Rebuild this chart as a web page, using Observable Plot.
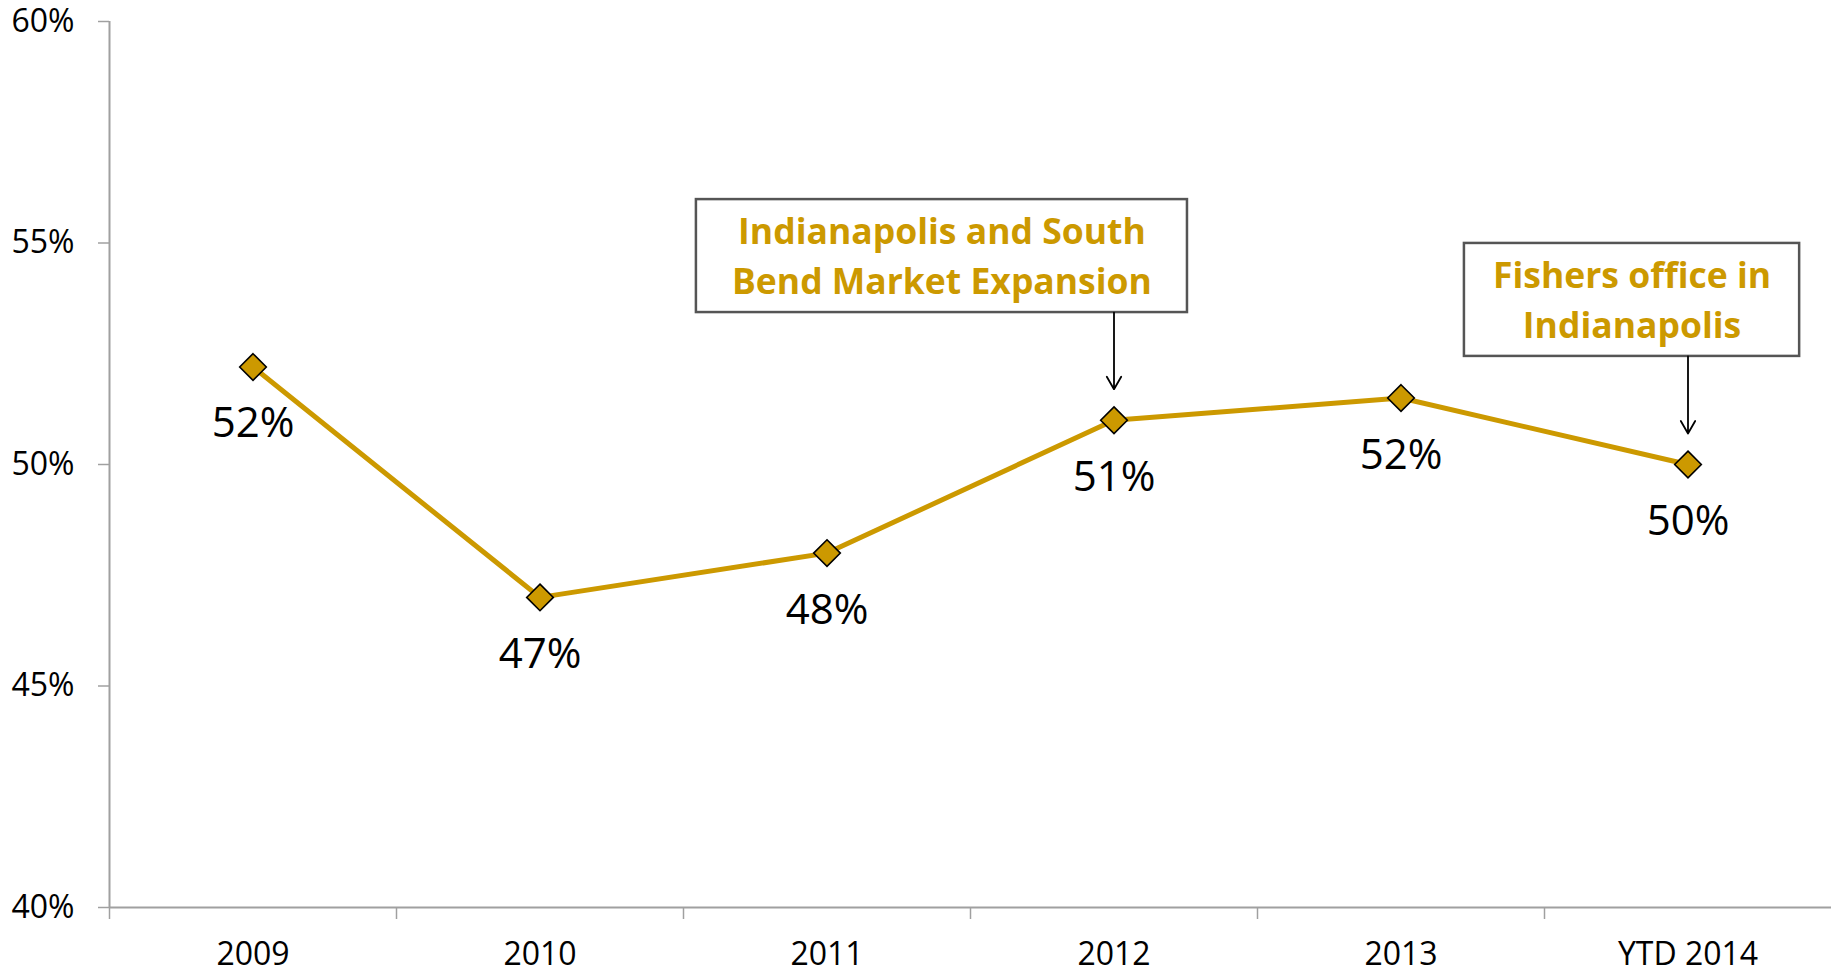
<!DOCTYPE html>
<html>
<head>
<meta charset="utf-8">
<script src="https://cdn.jsdelivr.net/npm/d3@7"></script>
<script src="https://cdn.jsdelivr.net/npm/@observablehq/plot@0.6"></script>
<style>
  html, body { margin: 0; padding: 0; background: #fff; }
  #chart svg { display: block; }
</style>
</head>
<body>
<div id="chart"></div>
<script>
// ---- data ----
const categories = ["2009", "2010", "2011", "2012", "2013", "YTD 2014"];
const values = [52.2, 47.0, 48.0, 51.0, 51.5, 50.0];
const valueLabels = ["52%", "47%", "48%", "51%", "52%", "50%"];
const yTicks = [40, 45, 50, 55, 60];

// annotations (in category-index / percent units)
const annText = ["Indianapolis and South\nBend Market Expansion", "Fishers office in\nIndianapolis"];
const annTarget = [3, 5];
const annLeft = [1.545, 4.221];
const annRight = [3.256, 5.389];
const annTop = [55.98, 54.99];
const annBottom = [53.43, 52.44];

const gold = "#CC9900";
const axisGray = "#A0A0A0";

const pts = categories.map((c, i) => ({i, v: values[i], label: valueLabels[i]}));
const ann = annText.map((t, k) => k);
const boundaries = d3.range(categories.length).map(i => i - 0.5);

const chart = Plot.plot({
  width: 1831,
  height: 971,
  marginLeft: 109,
  marginRight: 0,
  marginTop: 21,
  marginBottom: 64,
  x: {type: "linear", domain: [-0.5, categories.length - 0.5], axis: null, label: null},
  y: {domain: [40, 60], axis: null, label: null},
  style: {fontFamily: "'Open Sans', 'Noto Sans', sans-serif", background: "white", color: "black"},
  marks: [
    Plot.axisY({ticks: yTicks, tickFormat: d => d + "%", tickSize: 11, tickPadding: 24, fontSize: 32, stroke: axisGray, strokeWidth: 1.5, label: null}),
    Plot.axisX({ticks: d3.range(categories.length), tickFormat: i => categories[i], tickSize: 0, tickPadding: 35, fontSize: 32, label: null}),
    Plot.axisX({ticks: boundaries, tickFormat: () => "", tickSize: 12, stroke: axisGray, strokeWidth: 1.5, label: null}),
    Plot.ruleX([-0.5], {stroke: axisGray, strokeWidth: 2}),
    Plot.ruleY([40], {stroke: axisGray, strokeWidth: 2}),
    Plot.line(pts, {x: "i", y: "v", stroke: gold, strokeWidth: 5}),
    Plot.dot(pts, {x: "i", y: "v", symbol: "diamond2", r: 12, fill: gold, stroke: "black", strokeWidth: 1.6}),
    Plot.text(pts, {x: "i", y: "v", text: "label", dy: 57, fontSize: 42, fill: "black"}),
    Plot.rect(ann, {x1: k => annLeft[k], x2: k => annRight[k], y1: k => annBottom[k], y2: k => annTop[k], fill: "white", stroke: "#555555", strokeWidth: 2.5}),
    Plot.text(ann, {x: k => (annLeft[k] + annRight[k]) / 2, y: k => (annTop[k] + annBottom[k]) / 2, text: k => annText[k], fill: gold, fontWeight: "bold", fontSize: 35.5, lineHeight: 1.42, dy: -3}),
    Plot.arrow(ann, {x1: k => annTarget[k], x2: k => annTarget[k], y1: k => annBottom[k], y2: k => values[annTarget[k]], insetEnd: 31, stroke: "black", strokeWidth: 1.8, headLength: 12, bend: 0})
  ]
});

document.getElementById("chart").appendChild(chart);
</script>
</body>
</html>
